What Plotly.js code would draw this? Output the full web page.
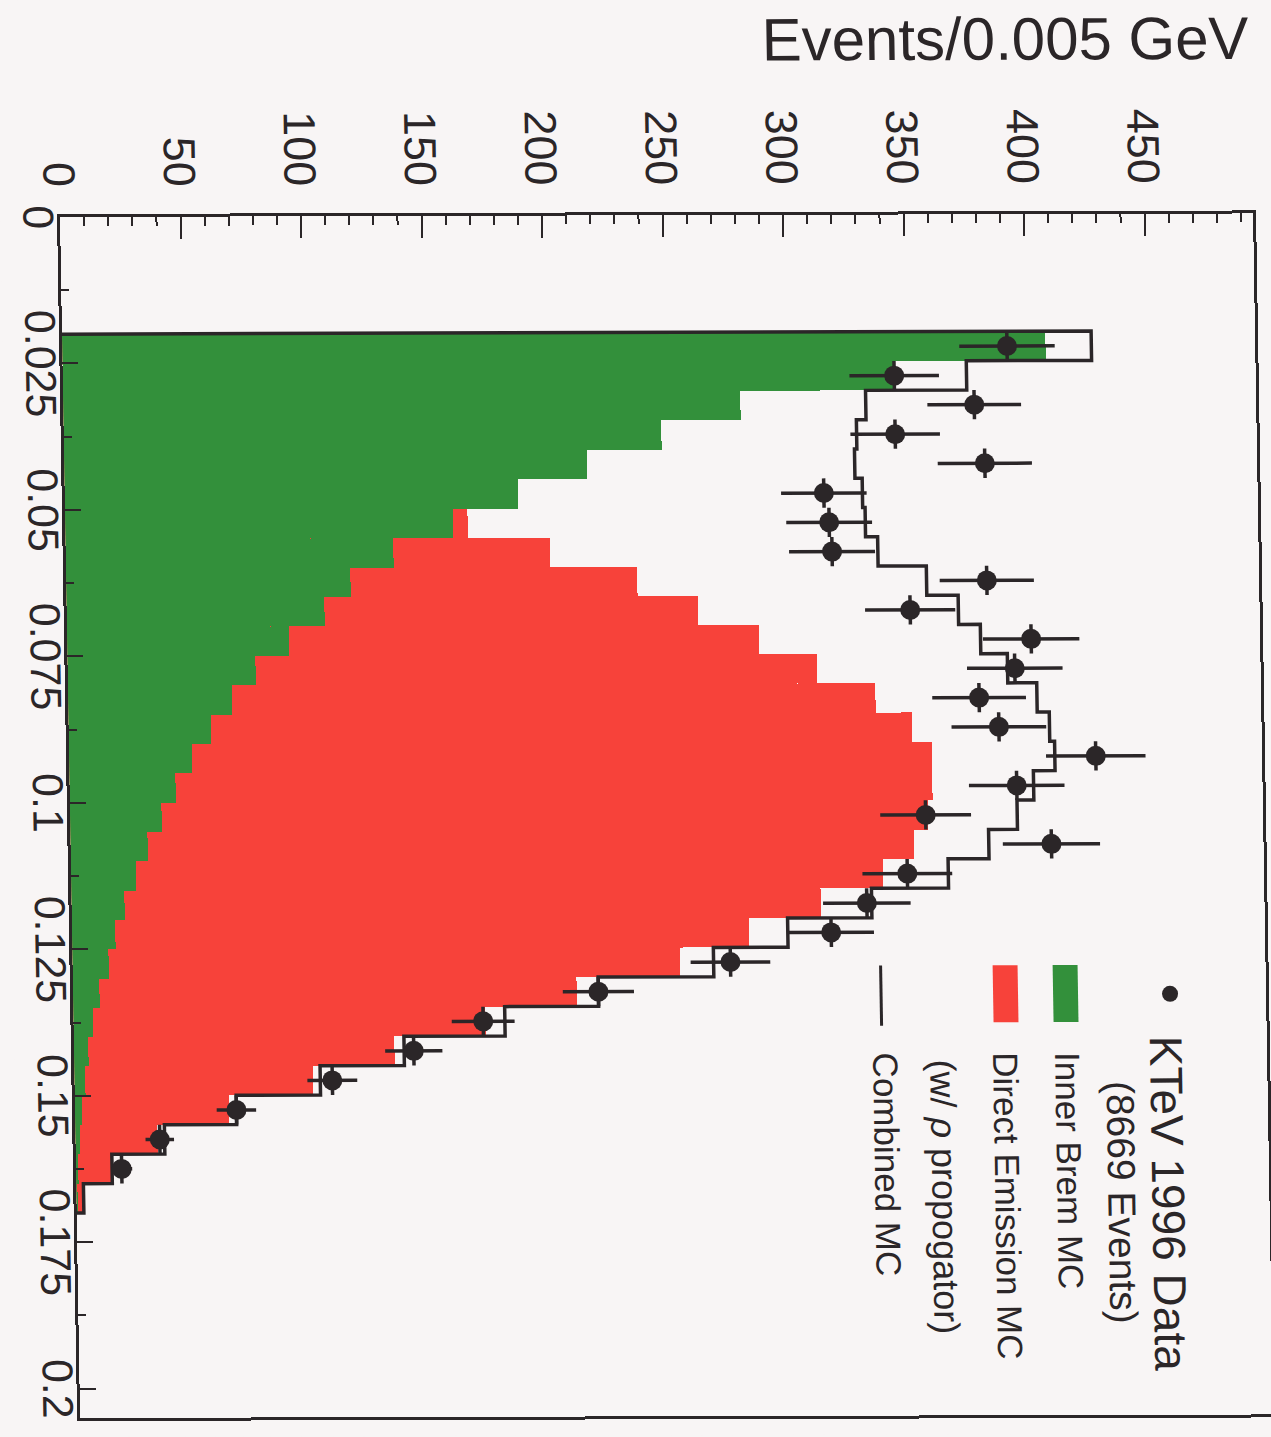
<!DOCTYPE html>
<html>
<head>
<meta charset="utf-8">
<script src="https://cdn.plot.ly/plotly-3.0.1.min.js"></script>
<style>
  html, body { margin:0; padding:0; background:#f8f5f5; overflow:hidden; width:1271px; height:1437px; }
  #wrap { position:absolute; left:0; top:0; width:1437px; height:1271px;
          transform-origin:0 0;
          transform: matrix(1,-0.003,0.0167,1,-3.6,0.2) translate(1271px,0) rotate(90deg); }
</style>
</head>
<body>
<div id="wrap"><div id="plot"></div></div>
<script>
// Photon energy bins (lower edges, GeV), bin width 0.005 GeV
const binLow = [0.020, 0.025, 0.030, 0.035, 0.040, 0.045, 0.050, 0.055, 0.060, 0.065,
                0.070, 0.075, 0.080, 0.085, 0.090, 0.095, 0.100, 0.105, 0.110, 0.115,
                0.120, 0.125, 0.130, 0.135, 0.140, 0.145, 0.150, 0.155, 0.160, 0.165];
const binWidth = 0.005;

// KTeV 1996 data (events per bin)
const dataCounts = [392, 345, 378, 345, 382, 315, 317, 318, 382, 350,
                    400, 393, 378, 386, 426, 393, 355, 407, 347, 330,
                    315, 273, 218, 170, 141, 107, 67, 35, 19, null];

// Inner Bremsstrahlung MC
const ibMC = [408, 345, 281, 248, 217, 188, 161, 136, 118, 107,
              92, 78, 68, 59, 51, 44, 38, 32, 27, 22,
              18, 15, 11, 8, 6, 4.5, 3, 2, 1, 0.5];

// Direct Emission MC (w/ rho propagator)
const deMC = [19, 30, 52, 81, 111, 143, 167, 201, 237, 262,
              287, 311, 335, 350, 358, 358, 356, 350, 337, 311,
              281, 252, 209, 171, 133, 99, 64, 34, 15, 3];

// Combined MC
const combinedMC = [427, 375, 333, 329, 328, 331, 332, 337, 357, 370,
                    379, 390, 402, 407, 409, 400, 393, 381, 364, 332,
                    297, 266, 218, 179, 137, 102, 67, 37, 15, 3];

const legendLabels = {
  data: 'KTeV 1996 Data', dataSub: '(8669 Events)',
  ib: 'Inner Brem MC', de: 'Direct Emission MC', deSub: '(w/ <i>ρ</i> propogator)',
  comb: 'Combined MC'
};
const yTitle = 'Events/0.005 GeV';

const centers = binLow.map(v => v + binWidth / 2);
const stepX = [binLow[0]].concat(binLow, [binLow[binLow.length - 1] + binWidth]);
const stepY = [0].concat(combinedMC, [0]);

const INK = '#2b2628';
const RED = '#f7423a';
const GREEN = '#33903b';
const FONT = 'Liberation Sans, Arial, sans-serif';

const traces = [
  { type:'bar', x:centers, y:deMC, width:binWidth, marker:{color:RED, line:{width:0}},
    hoverinfo:'skip', showlegend:false },
  { type:'bar', x:centers, y:ibMC, width:binWidth, marker:{color:GREEN, line:{width:0}},
    hoverinfo:'skip', showlegend:false },
  { type:'scatter', mode:'lines', x:stepX, y:stepY, line:{shape:'hv', color:INK, width:3.5},
    hoverinfo:'skip', showlegend:false },
  { type:'scatter', mode:'markers', x:centers, y:dataCounts,
    marker:{symbol:'circle', size:20, color:INK},
    error_y:{type:'sqrt', thickness:3.5, width:0, color:INK},
    error_x:{type:'constant', value:binWidth/2, thickness:3.5, width:0, color:INK},
    hoverinfo:'skip', showlegend:false }
];

// legend geometry (paper coordinates)
const lx0 = 0.6253, lx1 = 0.6728, ltx = 0.6961;
const shapes = [
  { type:'circle', xref:'paper', yref:'paper', xsizemode:'pixel', ysizemode:'pixel',
    xanchor:0.6495, yanchor:0.9195, x0:-8, x1:8, y0:-8, y1:8,
    fillcolor:INK, line:{width:0} },
  { type:'rect', xref:'paper', yref:'paper', x0:lx0, x1:lx1, y0:0.8215, y1:0.8424,
    fillcolor:GREEN, line:{width:0} },
  { type:'rect', xref:'paper', yref:'paper', x0:lx0, x1:lx1, y0:0.7712, y1:0.7921,
    fillcolor:RED, line:{width:0} },
  { type:'line', xref:'paper', yref:'paper', x0:lx0, x1:0.6753, y0:0.6773, y1:0.6773,
    line:{color:INK, width:3} }
];

const ann = (text, x, y, size) => ({
  text:text, xref:'paper', yref:'paper', x:x, y:y, xanchor:'left', yanchor:'middle',
  showarrow:false, font:{family:FONT, size:size, color:INK}
});

const annotations = [
  ann(legendLabels.data, 0.6828, 0.9153, 46),
  ann(legendLabels.dataSub, 0.720, 0.8760, 39),
  ann(legendLabels.ib, ltx, 0.8328, 35),
  ann(legendLabels.de, ltx, 0.7812, 35),
  ann(legendLabels.deSub, 0.7019, 0.7280, 36),
  ann(legendLabels.comb, ltx, 0.6798, 35),
  { text:yTitle, xref:'paper', yref:'paper', x:-0.1457, y:1.0, xanchor:'center', yanchor:'top',
    textangle:-90, showarrow:false, font:{family:FONT, size:60, color:INK} }
];

const layout = {
  width:1437, height:1271,
  margin:{l:217, r:19, t:18, b:60, pad:0},
  paper_bgcolor:'#f8f5f5', plot_bgcolor:'#f8f5f5',
  barmode:'overlay', bargap:0,
  font:{family:FONT, color:INK},
  showlegend:false,
  xaxis:{
    range:[0, 0.205], tick0:0, dtick:0.025, ticks:'inside', ticklen:16, tickwidth:2, tickcolor:INK,
    minor:{dtick:0.0125, ticks:'inside', ticklen:8, tickwidth:2, tickcolor:INK, showgrid:false},
    showline:true, mirror:true, linewidth:3, linecolor:INK,
    showgrid:false, zeroline:false, ticklabelstandoff:-18,
    tickfont:{family:FONT, size:43, color:INK}
  },
  yaxis:{
    range:[0, 495], tick0:0, dtick:50, ticks:'inside', ticklen:22, tickwidth:2, tickcolor:INK,
    minor:{dtick:10, ticks:'inside', ticklen:9, tickwidth:2, tickcolor:INK, showgrid:false},
    showline:true, mirror:true, linewidth:3, linecolor:INK,
    showgrid:false, zeroline:false, ticklabelstandoff:18,
    tickfont:{family:FONT, size:45, color:INK}
  },
  shapes:shapes,
  annotations:annotations
};

Plotly.newPlot('plot', traces, layout, {displayModeBar:false, staticPlot:true});
</script>
</body>
</html>
